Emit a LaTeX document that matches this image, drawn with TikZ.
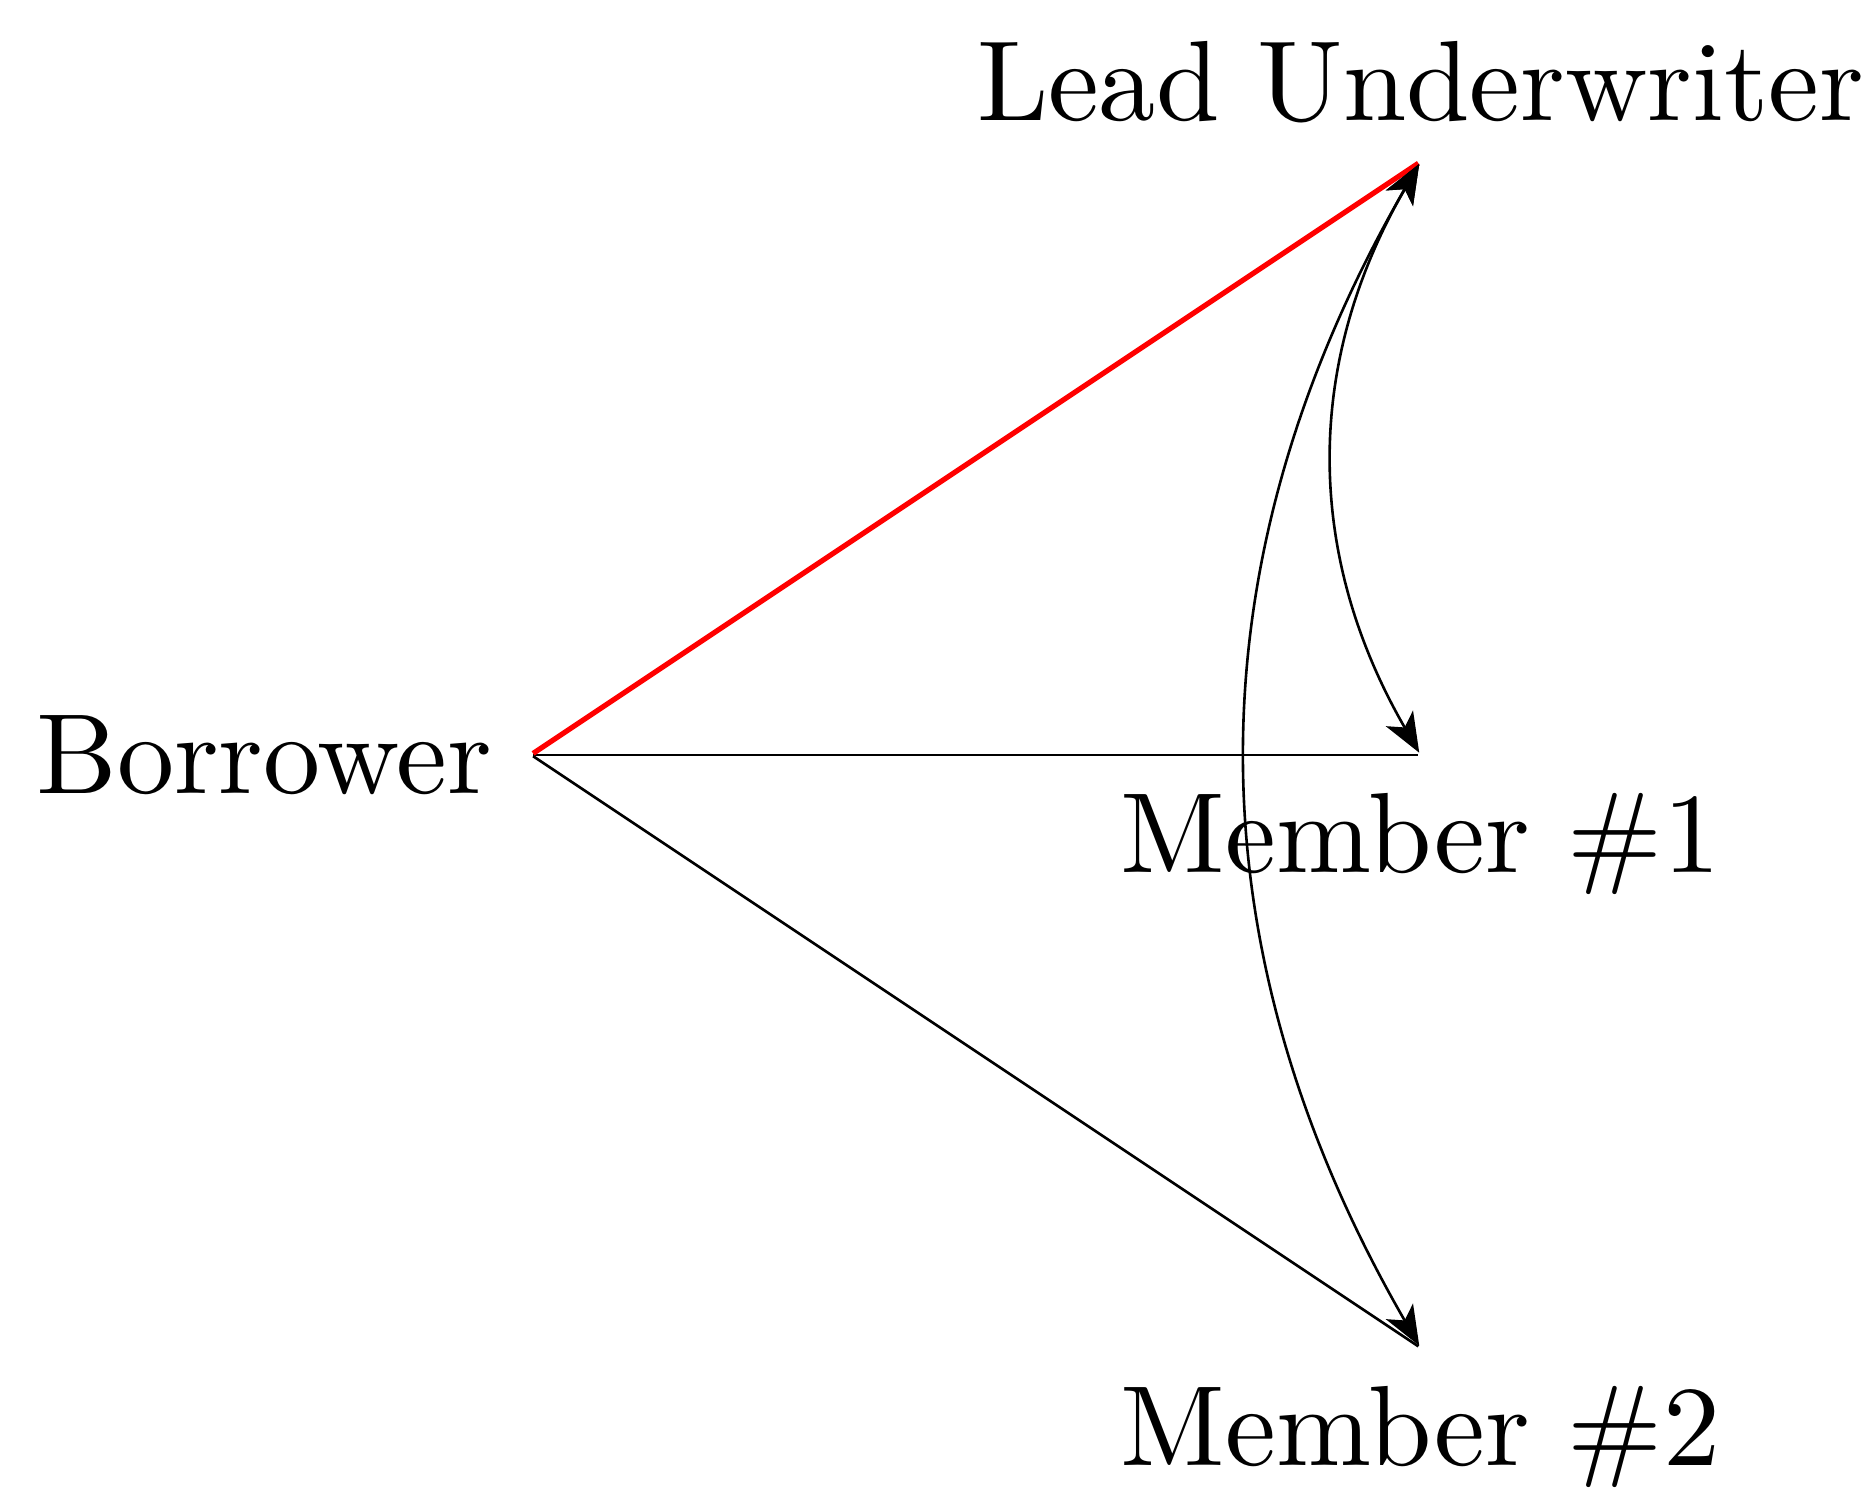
\documentclass[tikz,border=0pt]{standalone}
\usepackage{tikz}
\usetikzlibrary{arrows.meta, positioning}
\usepackage{xcolor}

\begin{document}
\begin{tikzpicture}[
    pt/.style={inner sep=0pt, minimum size=0pt},
    lbl/.style={font=\fontsize{10.95}{13.6}\selectfont, inner sep=3.33pt},
    link/.style={line width=0.25pt, color=black},
    lead/.style={line width=0.5pt, color=red},
    flow/.style={{Stealth[length=3.8pt, width=3pt, inset=1pt]}-{Stealth[length=3.8pt, width=3pt, inset=1pt]},
                 line width=0.25pt, bend right=30}
  ]
    \useasboundingbox (-1.791,-2.489) rectangle (4.523,2.546);

    \node[pt] (bor) at (0,0) {};
    \node[pt] (lu) at (3,2) {};
    \node[pt] (m1) at (3,0) {};
    \node[pt] (m2) at (3,-2) {};

    \node[lbl, left=0pt of bor] (borlbl) {Borrower};
    \node[lbl, above=0pt of lu] (lulbl) {Lead Underwriter};
    \node[lbl, below=0pt of m1] (m1lbl) {Member \#1};
    \node[lbl, below=0pt of m2] (m2lbl) {Member \#2};

    \draw[link] (bor) -- (m1);
    \draw[link] (bor) -- (m2);
    \draw[lead] (bor) -- (lu);

    \draw[flow] (lu) to (m1);
    \draw[flow] (lu) to (m2);
  \end{tikzpicture}
\end{document}
